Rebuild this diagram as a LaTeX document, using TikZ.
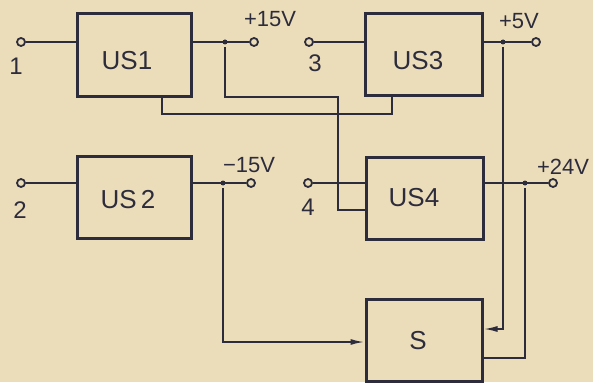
\documentclass[tikz,border=0pt]{standalone}
\usepackage{fontspec}
\setmainfont{Liberation Sans}
\usetikzlibrary{arrows.meta}
\definecolor{paper}{HTML}{ECDDBA}
\definecolor{ink}{HTML}{2D2C3C}
\begin{document}
\begin{tikzpicture}[x=1pt,y=-1pt,
  blk/.style={draw=ink,line width=3pt,inner sep=0pt,minimum width=#1,minimum height=82pt},
  blk/.default=116pt,
  term/.style={circle,draw=ink,line width=1.8pt,fill=paper,minimum size=8pt,inner sep=0pt},
  wire/.style={draw=ink,line width=1.8pt},
  intip/.style={-{Latex[length=14pt,width=6pt]}},
  jdot/.style={circle,fill=ink,inner sep=0pt,minimum size=5pt},
  boxtxt/.style={text=ink,inner sep=0pt,font=\fontsize{26}{26}\selectfont},
  numtxt/.style={text=ink,inner sep=0pt,font=\fontsize{24}{24}\selectfont},
  volt/.style={text=ink,inner sep=0pt,font=\fontsize{22}{22}\selectfont}]
\fill[paper] (0,0) rectangle (593,382);
\useasboundingbox (0,0) rectangle (593,382);
% blocks
\node[blk=114pt,minimum height=83pt] (us1) at (134,55.5) {};
\node[blk=117pt] (us3) at (423.5,55) {};
\node[blk=114pt] (us2) at (134,197) {};
\node[blk=117pt] (us4) at (424.5,198) {};
\node[blk] (s) at (424,340) {};
\node[boxtxt] (l1) at (127,61) {US1};
\node[boxtxt] (l3) at (418,61) {US3};
\node[boxtxt] (l2) at (128,200) {US\,2};
\node[boxtxt] (l4) at (414,198) {US4};
\node[boxtxt] (ls) at (418,341) {S};
% terminals
\node[term] (t1) at (21,42) {};
\node[term] (t2) at (21,183) {};
\node[term] (t3) at (309,42) {};
\node[term] (t4) at (308,183) {};
\node[term] (t15) at (254,42) {};
\node[term] (tm15) at (251,183) {};
\node[term] (t5) at (536,42) {};
\node[term] (t24) at (553,183) {};
% labels
\node[numtxt] (n1) at (16,66) {1};
\node[numtxt] (n2) at (20,210) {2};
\node[numtxt] (n3) at (315,63) {3};
\node[numtxt] (n4) at (308,207) {4};
\node[volt] (v15) at (270,19) {+15V};
\node[volt] (v5) at (519,21) {+5V};
\node[volt] (vm15) at (249,165) {−15V};
\node[volt] (v24) at (563,167) {+24V};
% junctions and corners
\coordinate (j15) at (225,42);
\coordinate (j5) at (503,42);
\coordinate (jm15) at (223,183);
\coordinate (j24) at (525,183);
\coordinate (c1) at (225,97);
\coordinate (c2) at (338,97);
\coordinate (c3) at (338,210);
\coordinate (b1) at (162,114);
\coordinate (b3) at (392,114);
\coordinate (d5) at (503,329);
\coordinate (dm15) at (223,342);
\coordinate (d24) at (525,358);
% wires
\draw[wire] (t1) -- (t1 -| us1.west);
\draw[wire] (t2) -- (t2 -| us2.west);
\draw[wire] (t3) -- (t3 -| us3.west);
\draw[wire] (t4) -- (t4 -| us4.west);
\draw[wire] (t15 -| us1.east) -- (t15);
\draw[wire] (tm15 -| us2.east) -- (tm15);
\draw[wire] (t5 -| us3.east) -- (t5);
\draw[wire] (t24 -| us4.east) -- (t24);
\draw[wire] ([yshift=-5pt]j15) -- (c1) -- (c2) -- (c3) -- (c3 -| us4.west);
\draw[wire] (b1 |- us1.south) -- (b1) -- (b3) -- (b3 |- us3.south);
\draw[wire,intip] ([yshift=-5pt]j5) -- (d5) -- (d5 -| s.east);
\draw[wire,intip] ([yshift=-5pt]jm15) -- (dm15) -- (dm15 -| s.west);
\draw[wire] ([yshift=-5pt]j24) -- (d24) -- (d24 -| s.east);
\node[jdot] (k1) at (j15) {};
\node[jdot] (k2) at (j5) {};
\node[jdot] (k3) at (jm15) {};
\node[jdot] (k4) at (j24) {};
\end{tikzpicture}
\end{document}
